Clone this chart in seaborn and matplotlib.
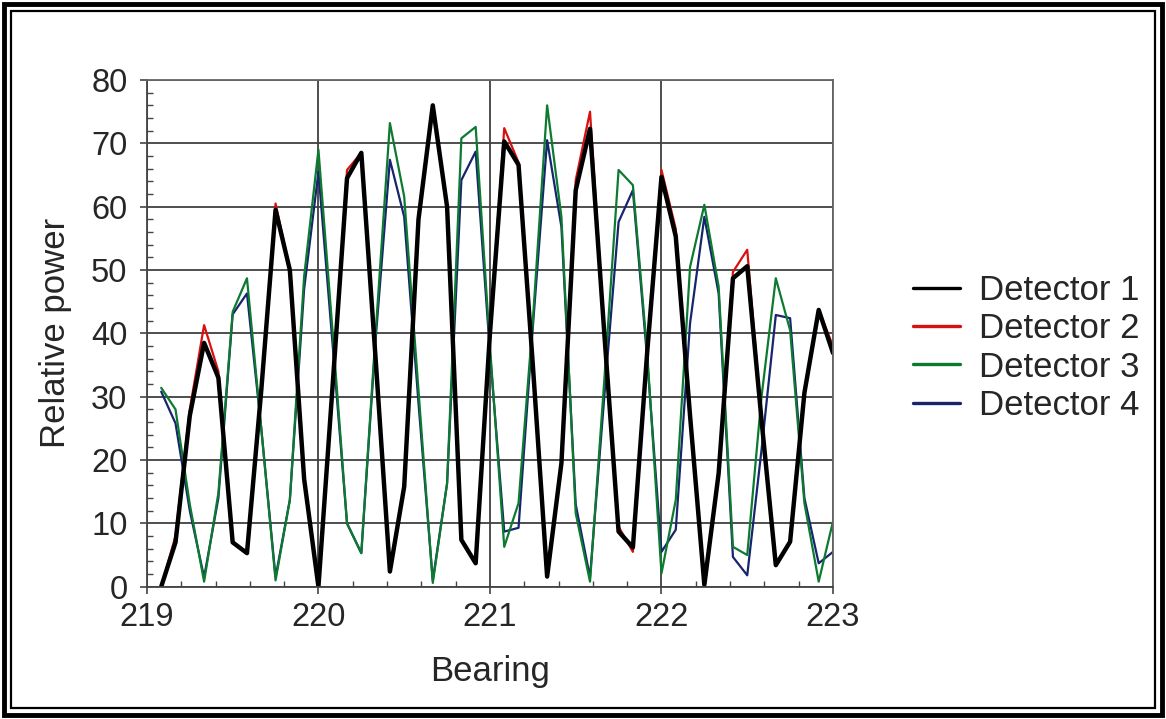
import numpy as np
import pandas as pd
import matplotlib
matplotlib.use("Agg")
import matplotlib.pyplot as plt
from matplotlib.lines import Line2D
from matplotlib.patches import Rectangle
from matplotlib.ticker import MultipleLocator
import seaborn as sns

# Bearing samples (degrees), 1/12 degree apart
bearing = [219 + (i + 1) / 12 for i in range(48)]

detector_1 = [0, 7, 27, 38.5, 33, 7, 5.3, 31, 59.5, 50, 17, 0,
              32, 64.5, 68.5, 36, 2.4, 15.8, 58, 76, 60, 7.4, 3.7, 40,
              70.3, 66.6, 35, 1.6, 19.5, 62.6, 72.3, 40, 8.7, 6.2, 37, 64.7,
              55.3, 27, 0.3, 17.9, 48.7, 50.6, 26.3, 3.4, 7.1, 30.6, 43.7, 36.9]

detector_2 = [0, 8, 28, 41.3, 34, 7, 5.3, 31, 60.5, 50, 17, 0,
              32, 65.8, 68.5, 36, 2.4, 15.8, 58, 76, 60, 7.4, 3.7, 40,
              72.4, 67, 35, 1.6, 19.5, 64.2, 75, 40, 9.5, 5.5, 37, 65.8,
              56.5, 27, 0.3, 17.9, 49.7, 53.2, 26.3, 3.4, 7.1, 30.6, 43.7, 38]

detector_3 = [31.4, 28, 13, 0.8, 14.8, 43.4, 48.7, 25, 1, 13.7, 49, 69,
              40, 10, 5.3, 40, 73.2, 61.6, 31, 0.6, 16.3, 70.8, 72.6, 38,
              6.3, 13.2, 42, 76, 58.4, 11.6, 0.8, 32.6, 65.8, 63.4, 37, 2.1,
              13.7, 50.5, 60.3, 47.4, 6.3, 5, 30, 48.7, 40.5, 13.2, 0.8, 10.3]

detector_4 = [30.8, 25.8, 12, 1.5, 14, 43, 46.3, 25, 1.5, 13.7, 47, 65.5,
              38, 10, 5.3, 39, 67.4, 58.4, 29, 1, 16.3, 64.2, 68.7, 37,
              8.7, 9.3, 41, 70.5, 56.8, 13, 1.5, 30, 57.6, 62.6, 36, 5.5,
              9, 41.6, 58.4, 46.3, 4.7, 1.8, 21.6, 42.9, 42.4, 14, 3.7, 5.5]

names = ["Detector 1", "Detector 2", "Detector 3", "Detector 4"]
colors = ["#000000", "#d81010", "#0c7a30", "#17246e"]
widths = [3.2, 1.6, 1.6, 1.6]

df = pd.DataFrame({"Bearing": bearing, names[0]: detector_1, names[1]: detector_2,
                   names[2]: detector_3, names[3]: detector_4})
long = df.melt(id_vars="Bearing", var_name="Detector", value_name="Relative power")

sns.set_theme(style="white")
plt.rcParams["font.family"] = ["Liberation Sans", "DejaVu Sans"]

fig = plt.figure(figsize=(11.66, 7.19), dpi=100)
ax = fig.add_axes([0.126, 0.184, 0.5884, 0.7047])

# draw back to front: detector 4 first, detector 1 on top
for name, col, lw in reversed(list(zip(names, colors, widths))):
    sub = long[long["Detector"] == name]
    sns.lineplot(data=sub, x="Bearing", y="Relative power", ax=ax,
                 color=col, linewidth=lw, legend=False)

ax.set_xlim(219, 223)
ax.set_ylim(0, 80)
ax.xaxis.set_major_locator(MultipleLocator(1))
ax.xaxis.set_minor_locator(MultipleLocator(0.2))
ax.yaxis.set_major_locator(MultipleLocator(10))
ax.yaxis.set_minor_locator(MultipleLocator(2))

grid_col = "#404040"
ax.grid(True, which="major", color=grid_col, linewidth=1.3)
ax.set_axisbelow(True)
for s in ax.spines.values():
    s.set_color("#666666")
    s.set_linewidth(1.3)
ax.spines["bottom"].set_color("#444444")
ax.spines["left"].set_color("#444444")

ax.tick_params(axis="both", which="major", direction="out", length=5, width=1.2,
               color="#444444", labelsize=23.5, bottom=True, left=True)
ax.tick_params(axis="x", which="major", pad=6)
ax.tick_params(axis="y", which="major", pad=9)
ax.tick_params(axis="both", which="minor", direction="in", length=4, width=1.0,
               color="#444444", bottom=True, left=True)

ax.set_xlabel("Bearing", fontsize=25, labelpad=16)
ax.set_ylabel("Relative power", fontsize=25, labelpad=14)

handles = [Line2D([], [], color=c, linewidth=2.4) for c in colors]
fig.legend(handles, names, loc="center left", bbox_to_anchor=(0.783, 0.516),
           frameon=False, fontsize=25, handlelength=1.35, handletextpad=0.55,
           labelspacing=0.15, borderpad=0, borderaxespad=0)

# double frame around the figure
fig.add_artist(Rectangle((4 / 1166, 4 / 719), 1 - 8 / 1166, 1 - 8 / 719,
                         transform=fig.transFigure, fill=False,
                         edgecolor="black", linewidth=3.5))
fig.add_artist(Rectangle((11 / 1166, 11 / 719), 1 - 22 / 1166, 1 - 22 / 719,
                         transform=fig.transFigure, fill=False,
                         edgecolor="black", linewidth=1.6))

fig.savefig("out.png", dpi=100)
